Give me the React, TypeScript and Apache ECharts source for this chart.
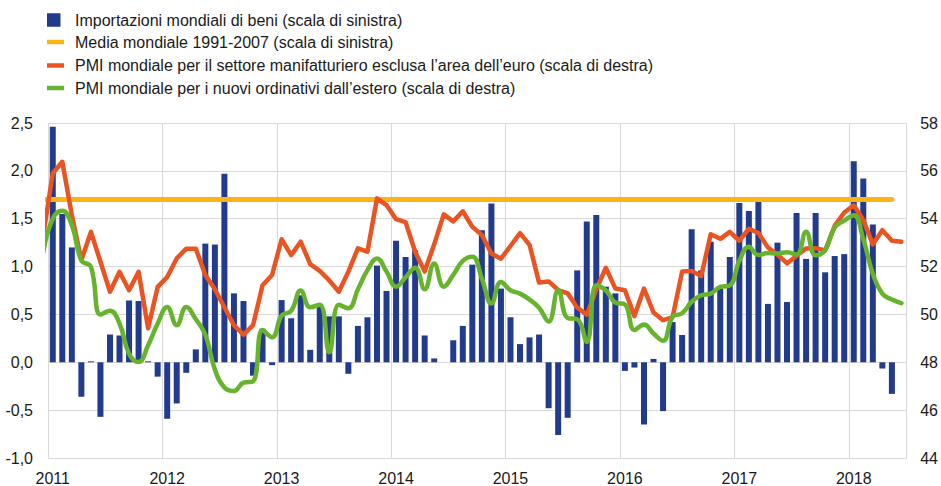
import React, { useEffect, useRef } from "react";
import * as echarts from "echarts";

// ---- data ----
const years = ["2011", "2012", "2013", "2014", "2015", "2016", "2017", "2018"];
const monthNumbers = ["01", "02", "03", "04", "05", "06", "07", "08", "09", "10", "11", "12"];
const monthCount = 90; // Jan 2011 .. Jun 2018

// World goods imports, 3m/3m % (left scale), Jan 2011 .. May 2018
const worldImports = [
  2.46, 1.55, 1.2, -0.36, 0.01, -0.57, 0.29, 0.28, 0.645, 0.64, 0.01, -0.15,
  -0.59, -0.43, -0.11, 0.135, 1.24, 1.23, 1.97, 0.72, 0.64, -0.14, 0.35, -0.03,
  0.65, 0.46, 0.7, 0.13, 0.61, 0.48, 0.48, -0.12, 0.38, 0.47, 1.01, 0.745,
  1.27, 1.1, 1.17, 0.28, 0.04, 0.0, 0.23, 0.38, 1.02, 1.38, 1.66, 0.77,
  0.47, 0.19, 0.26, 0.29, -0.48, -0.76, -0.58, 0.96, 1.47, 1.54, 0.79, 0.72,
  -0.09, -0.055, -0.65, 0.035, -0.51, 0.42, 0.285, 1.39, 0.96, 1.26, 0.77, 1.1,
  1.665, 1.58, 1.68, 0.61, 1.25, 0.63, 1.56, 1.08, 1.56, 0.94, 1.11, 1.13,
  2.1, 1.92, 1.44, -0.065, -0.33,
];

// World average 1991-2007 (left scale)
const worldAverage = 1.7;

// Global manufacturing PMI excl. euro area (right scale), Dec 2010 .. Jun 2018
const pmiManufacturing = [
  53.3,
  55.9, 56.38, 54.15, 52.27, 53.45, 52.2, 50.95, 51.78, 51.01, 51.78, 49.42, 51.15,
  51.56, 52.34, 52.75, 52.75, 51.65, 51.05, 50.3, 49.55, 49.15, 49.55, 51.22, 51.65,
  53.14, 52.48, 53.04, 52.1, 51.82, 51.42, 50.95, 51.79, 52.76, 52.62, 54.85, 54.57,
  53.98, 53.86, 52.62, 51.79, 52.93, 54.18, 53.89, 54.31, 53.66, 53.32, 52.55, 52.33,
  52.86, 53.4, 52.91, 51.33, 51.38, 51.02, 50.88, 50.29, 49.99, 51.05, 51.95, 51.08,
  51.01, 49.93, 51.08, 50.08, 49.76, 49.88, 51.79, 51.82, 51.6, 53.35, 53.16, 53.45,
  53.08, 53.58, 53.4, 52.8, 52.5, 52.13, 52.45, 52.76, 52.77, 52.67, 53.7, 54.26,
  54.56, 53.95, 52.93, 53.52, 53.08, 53.04,
];

// Global PMI new export orders (right scale), Dec 2010 .. Jun 2018
const pmiExportOrders = [
  52.6,
  54.0, 54.33, 53.73, 52.26, 51.99, 50.0, 50.15, 49.62, 48.36, 48.01, 48.71, 49.62,
  50.31, 49.55, 50.31, 49.8, 49.15, 47.7, 46.95, 46.8, 47.15, 47.2, 49.35, 49.05,
  49.95, 50.15, 51.0, 50.3, 50.4, 48.42, 50.4, 50.26, 51.05, 51.85, 52.34, 51.79,
  51.16, 51.55, 51.95, 51.05, 52.13, 51.16, 51.65, 52.24, 52.41, 51.5, 50.46, 51.36,
  51.01, 50.87, 50.62, 50.28, 49.7, 51.01, 49.85, 49.8, 48.85, 51.22, 51.0, 50.5,
  50.42, 49.35, 49.58, 49.2, 48.9, 49.9, 50.05, 50.53, 50.8, 50.87, 51.15, 51.21,
  52.24, 52.83, 52.48, 52.57, 52.55, 52.6, 52.5, 53.45, 52.47, 52.69, 53.63, 53.92,
  54.15, 53.14, 51.7, 50.87, 50.62, 50.47,
];

const legendLabels = [
  "Importazioni mondiali di beni (scala di sinistra)",
  "Media mondiale 1991-2007 (scala di sinistra)",
  "PMI mondiale per il settore manifatturiero esclusa l\u2019area dell\u2019euro (scala di destra)",
  "PMI mondiale per i nuovi ordinativi dall\u2019estero (scala di destra)",
];

// ---- styling ----
const BLUE = "#233b8c";
const YELLOW = "#fdb515";
const RED = "#ea5322";
const GREEN = "#67b32e";
const GRID = "#d9d9d9";
const TEXT = "#1a1a1a";
const FONT = "'Liberation Sans', Arial, sans-serif";

const months: string[] = [];
years.forEach((y) => monthNumbers.forEach((m) => months.push(`${y}-${m}`)));
const categories = months.slice(0, monthCount);

export default function App() {
  const ref = useRef<HTMLDivElement>(null);

  useEffect(() => {
    if (!ref.current) return;
    const chart = echarts.init(ref.current, undefined, { renderer: "svg" });

    // line series use a hidden value x-axis: month k sits at k + 0.5 (Dec 2010 at -0.5, clipped)
    const toLinePoints = (arr: number[]) => arr.map((v, k) => [k - 0.5, v]);
    const avgLine = [-1, ...worldImports.map((_, i) => i)].map((i) => [i + 0.5, worldAverage]);

    const legendGraphics: any[] = [];
    const legendColors = [BLUE, YELLOW, RED, GREEN];
    const rowY = [20, 42, 65.5, 88];
    legendLabels.forEach((label, i) => {
      if (i === 0) {
        legendGraphics.push({
          type: "rect",
          shape: { x: 47, y: rowY[i] - 6.75, width: 13.5, height: 13.5 },
          style: { fill: legendColors[i] },
        });
      } else {
        legendGraphics.push({
          type: "rect",
          shape: { x: 47, y: rowY[i] - 2.25, width: 17, height: 4.5 },
          style: { fill: legendColors[i] },
        });
      }
      legendGraphics.push({
        type: "text",
        x: 75,
        y: rowY[i],
        style: {
          text: label,
          fontSize: 16,
          fontFamily: FONT,
          fill: TEXT,
          verticalAlign: "middle",
          textAlign: "left",
        },
      });
    });

    chart.setOption({
      animation: false,
      backgroundColor: "#ffffff",
      grid: { left: 48, right: 32, top: 123, bottom: 28, containLabel: false },
      graphic: legendGraphics,
      xAxis: [
        {
          type: "category",
          data: categories,
          boundaryGap: true,
          axisLine: { show: false },
          axisTick: { show: false },
          axisLabel: {
            interval: (i: number) => i % 12 === 0,
            formatter: (v: string) => v.slice(0, 4),
            fontSize: 16,
            fontFamily: FONT,
            color: TEXT,
            margin: 12,
          },
          splitLine: {
            show: true,
            interval: (i: number) => i % 12 === 0,
            lineStyle: { color: GRID, width: 1 },
          },
        },
        { type: "value", min: 0, max: monthCount, show: false },
      ],
      yAxis: [
        {
          type: "value",
          position: "left",
          min: -1,
          max: 2.5,
          interval: 0.5,
          axisLine: { show: false },
          axisTick: { show: false },
          axisLabel: {
            formatter: (v: number) => v.toFixed(1).replace(".", ","),
            fontSize: 16,
            fontFamily: FONT,
            color: TEXT,
            margin: 15,
          },
          splitLine: { show: true, lineStyle: { color: GRID, width: 1 } },
        },
        {
          type: "value",
          position: "right",
          min: 44,
          max: 58,
          interval: 2,
          axisLine: { show: true, lineStyle: { color: GRID, width: 1 } },
          axisTick: { show: false },
          axisLabel: {
            fontSize: 16,
            fontFamily: FONT,
            color: TEXT,
            margin: 14,
          },
          splitLine: { show: false },
        },
      ],
      series: [
        {
          type: "bar",
          xAxisIndex: 0,
          yAxisIndex: 0,
          data: worldImports,
          barWidth: 6,
          itemStyle: { color: BLUE },
        },
        {
          type: "line",
          xAxisIndex: 1,
          yAxisIndex: 0,
          data: avgLine,
          showSymbol: false,
          clip: true,
          lineStyle: { color: YELLOW, width: 5, cap: "round" },
        },
        {
          type: "line",
          xAxisIndex: 1,
          yAxisIndex: 1,
          data: toLinePoints(pmiManufacturing),
          showSymbol: false,
          clip: true,
          lineStyle: { color: RED, width: 4.5, cap: "round", join: "round" },
        },
        {
          type: "line",
          xAxisIndex: 1,
          yAxisIndex: 1,
          data: toLinePoints(pmiExportOrders),
          showSymbol: false,
          smooth: 0.45,
          clip: true,
          lineStyle: { color: GREEN, width: 4.5, cap: "round", join: "round" },
        },
      ],
    });

    return () => chart.dispose();
  }, []);

  return (
    <div
      ref={ref}
      style={{ position: "fixed", left: 0, top: 0, width: 941, height: 486, background: "#fff" }}
    />
  );
}
